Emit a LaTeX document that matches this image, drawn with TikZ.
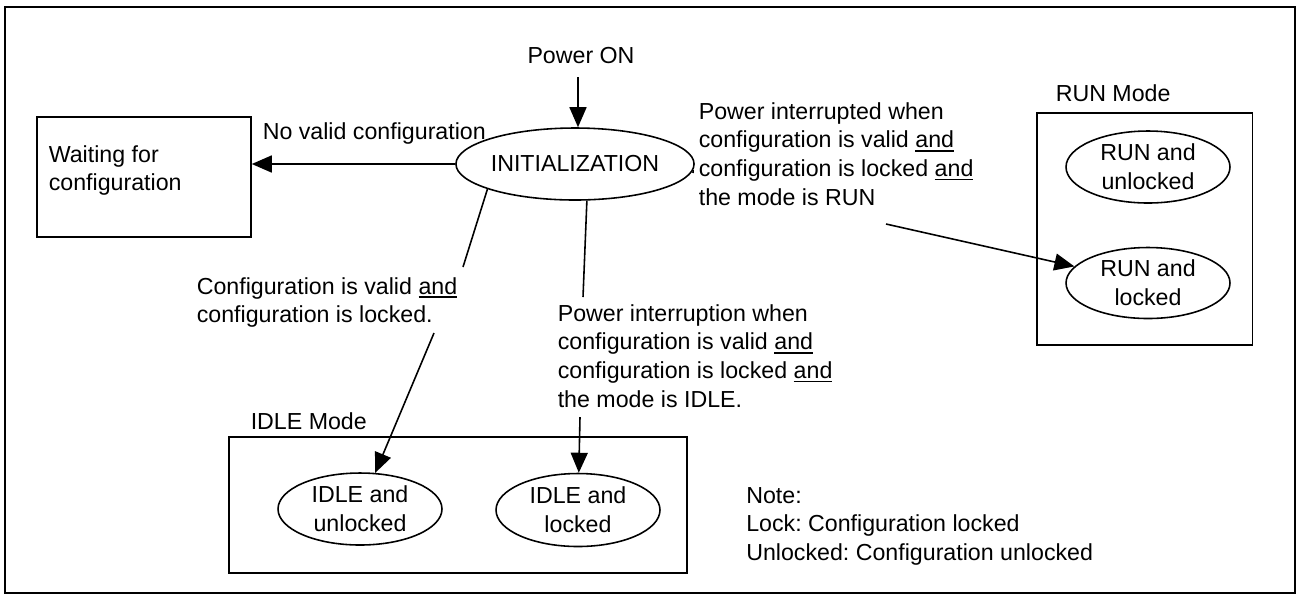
\documentclass[tikz,border=0pt]{standalone}
\usepackage{fontspec}
\setmainfont{Liberation Sans}
\usetikzlibrary{shapes.geometric,arrows.meta}
\newcommand\und[1]{\setbox0\hbox{#1}\rlap{\rule[-2.2pt]{\wd0}{0.9pt}}\box0}
\frenchspacing
\begin{document}
\begin{tikzpicture}[x=0.02cm,y=-0.02cm,
  font={\fontsize{13.2}{16.3}\selectfont},
  line width=0.9pt,
  ell/.style={ellipse, draw, inner sep=0pt, align=center, minimum width=3.28cm, minimum height=1.44cm},
  box/.style={draw, rectangle, inner sep=0pt},
  txt/.style={inner sep=0pt, align=left, anchor=north west},
  arr/.style={-{Triangle[length=0.4cm,width=0.34cm]}}]
\useasboundingbox (0,0) rectangle (1300,600);
\draw[line width=1.1pt] (5,7) rectangle (1295,593);

% boxes
\node[box, minimum width=4.28cm, minimum height=2.4cm] (wait) at (144,177) {};
\node[txt] (wtxt) at (48,144.5) {Waiting for\\configuration};
\node[box, minimum width=4.31cm, minimum height=4.64cm] (runbox) at (1144.75,229) {};
\node[box, minimum width=9.16cm, minimum height=2.72cm] (idlebox) at (458,505) {};

% states
\node[ell, minimum width=3.86cm] (init) at (575,164) {INITIALIZATION};
\node[ell] (rul) at (1148,167) {RUN and\\unlocked};
\node[ell, minimum height=1.42cm] (rl) at (1148,283) {RUN and\\locked};
\node[ell] (iul) at (360,509) {IDLE and\\unlocked};
\node[ell, minimum height=1.46cm] (il) at (578,510) {IDLE and\\locked};

% texts
\node[inner sep=0pt] (pon) at (581,56) {Power ON};
\node[txt] (novalid) at (262,121.5) {No valid configuration};
\node[txt] (runtxt) at (698,101.5) {Power interrupted when\\configuration is valid \und{and}\\configuration is locked \und{and}\\the mode is RUN};
\node[txt] (cfgtxt) at (196,276.5) {Configuration is valid \und{and}\\configuration is locked.};
\node[txt] (idletxt) at (557,303.5) {Power interruption when\\configuration is valid \und{and}\\configuration is locked \und{and}\\the mode is IDLE.};
\node[txt] (runmode) at (1055,83.5) {RUN Mode};
\node[txt] (idlemode) at (250,411.5) {IDLE Mode};
\node[txt] (note) at (745.5,486.5) {Note:\\Lock: Configuration locked\\Unlocked: Configuration unlocked};

% free ends
\coordinate (p1) at (578,77);
\coordinate (c1) at (463,267);
\coordinate (c2) at (583,297);
\coordinate (c3) at (693,173);
\coordinate (c4) at (886,224);
\coordinate (c5) at (434,333);
\coordinate (c6) at (580,417);

% connectors
\draw[arr] (p1) -- (p1 |- init.north);
\draw[arr] (init.west) -- (init.west -| wait.east);
\draw (init.196) -- (c1);
\draw (init.288) -- (c2);
\draw (init.357) -- (c3);
\draw[arr] (c4) -- (rl);
\draw[arr] (c5) -- (iul);
\draw[arr] (c6) -- (il);
\end{tikzpicture}
\end{document}
